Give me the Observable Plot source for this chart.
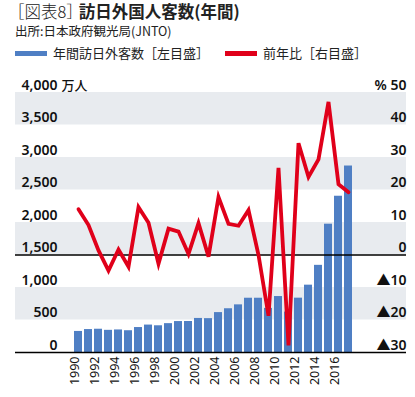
<!DOCTYPE html>
<html><head><meta charset="utf-8">
<script src="https://cdn.jsdelivr.net/npm/d3@7"></script>
<script src="https://cdn.jsdelivr.net/npm/@observablehq/plot@0.6"></script>
<style>
body{margin:0;background:#fff;font-family:"Noto Sans CJK JP","Noto Sans",sans-serif;color:#222;}
#wrap{position:relative;width:415px;height:397px;overflow:hidden;}
#title{position:absolute;left:8px;top:1px;font-size:16.5px;line-height:20px;white-space:nowrap;}
#title .lt{font-weight:300;margin-right:0px;}
#title .bd{font-weight:700;margin-left:-4px;}
#sub{position:absolute;left:15px;top:23px;font-size:12.5px;line-height:15px;font-weight:400;white-space:nowrap;}
#legend{position:absolute;left:15px;top:44px;font-size:13px;line-height:18px;white-space:nowrap;display:flex;align-items:center;}
.sw{display:inline-block;width:32px;height:5px;margin-right:6px;}
#chart{position:absolute;left:0;top:70px;}
</style></head>
<body><div id="wrap">
<div id="title"><span class="lt">［図表8］</span><span class="bd">訪日外国人客数(年間)</span></div>
<div id="sub">出所:日本政府観光局(JNTO)</div>
<div id="legend"><span class="sw" style="background:#4f7fc4"></span><span>年間訪日外客数［左目盛］</span><span class="sw" style="background:#e0001a;margin-left:16px"></span><span>前年比［右目盛］</span></div>
<div id="chart"></div>
</div>
<script>
const years = [1990,1991,1992,1993,1994,1995,1996,1997,1998,1999,2000,2001,2002,2003,2004,2005,2006,2007,2008,2009,2010,2011,2012,2013,2014,2015,2016,2017];
const visitors = [324,353,358,341,347,335,384,422,411,444,476,477,524,521,614,673,733,835,835,679,861,622,836,1036,1341,1974,2404,2869];
const growth = [14.1,9.2,1.4,-4.8,1.7,-3.6,14.7,9.9,-2.7,8.1,7.2,0.3,9.8,-0.5,17.8,9.6,9.0,13.8,0.0,-18.7,26.8,-27.8,34.4,24.0,29.4,47.1,21.8,19.3];
const leftTicks = [0,500,1000,1500,2000,2500,3000,3500,4000];
const leftLabels = ["0","500","1,000","1,500","2,000","2,500","3,000","3,500","4,000"];
const rightTicks = [-30,-20,-10,0,10,20,30,40,50];
const rightLabels = ["▲30","▲20","▲10","0","10","20","30","40","% 50"];
const grayBands = [500,1500,2500,3500];
const yearLabels = ["1990","1992","1994","1996","1998","2000","2002","2004","2006","2008","2010","2012","2014","2016"];

// right axis (%) mapped onto left scale: 0% = 1500, 10% = 500
const pctToLeft = p => 1500 + p * 50;

const bars = years.map((y,i)=>({year:String(y), v:visitors[i]}));
const line = years.map((y,i)=>({year:String(y), v:pctToLeft(growth[i])}));
const lt = leftTicks.map((t,i)=>({v:t, label:leftLabels[i]}));
const rt = rightTicks.map((t,i)=>({v:pctToLeft(t), label:rightLabels[i]}));
const font = "'Noto Sans','Noto Sans CJK JP',sans-serif";

const chart = Plot.plot({
  width: 415,
  height: 327,
  marginTop: 22,
  marginBottom: 45,
  marginLeft: 15,
  marginRight: 9,
  style: {fontFamily: font, background: "transparent"},
  x: {type: "band", domain: years.map(String), range: [68.3, 357.2], paddingInner: 0.2, paddingOuter: 0, axis: null},
  y: {domain: [0, 4000], axis: null},
  marks: [
    Plot.rect(grayBands, {y1: d => d, y2: d => d + 500, fill: "#e8ebef"}),
    Plot.text(lt, {y: "v", text: "label", frameAnchor: "left", textAnchor: "end", dx: 42, dy: -3, lineAnchor: "bottom", fontSize: 14, fontWeight: 600, fill: "#111"}),
    Plot.text([{v:4000}], {y: "v", text: () => "万人", frameAnchor: "left", textAnchor: "start", dx: 46, dy: -3, lineAnchor: "bottom", fontSize: 13, fontWeight: 500, fill: "#111", fontFamily: "'Noto Sans CJK JP',sans-serif"}),
    Plot.text(rt, {y: "v", text: "label", frameAnchor: "right", textAnchor: "end", dx: 0, dy: -3, lineAnchor: "bottom", fontSize: 14, fontWeight: 600, fill: "#111"}),
    Plot.barY(bars, {x: "year", y: "v", fill: "#4f7fc4"}),
    Plot.ruleY([0, 1500], {stroke: "#000", strokeWidth: 1.3}),
    Plot.line(line, {x: "year", y: "v", stroke: "#e0001a", strokeWidth: 3.8, strokeLinejoin: "miter", strokeMiterlimit: 4}),
    Plot.text(yearLabels, {x: d => d, text: d => d, frameAnchor: "bottom", rotate: -90, textAnchor: "end", dy: 4, fontSize: 12.5, fill: "#111"}),
  ]
});
document.getElementById("chart").appendChild(chart);
</script>
</body></html>
